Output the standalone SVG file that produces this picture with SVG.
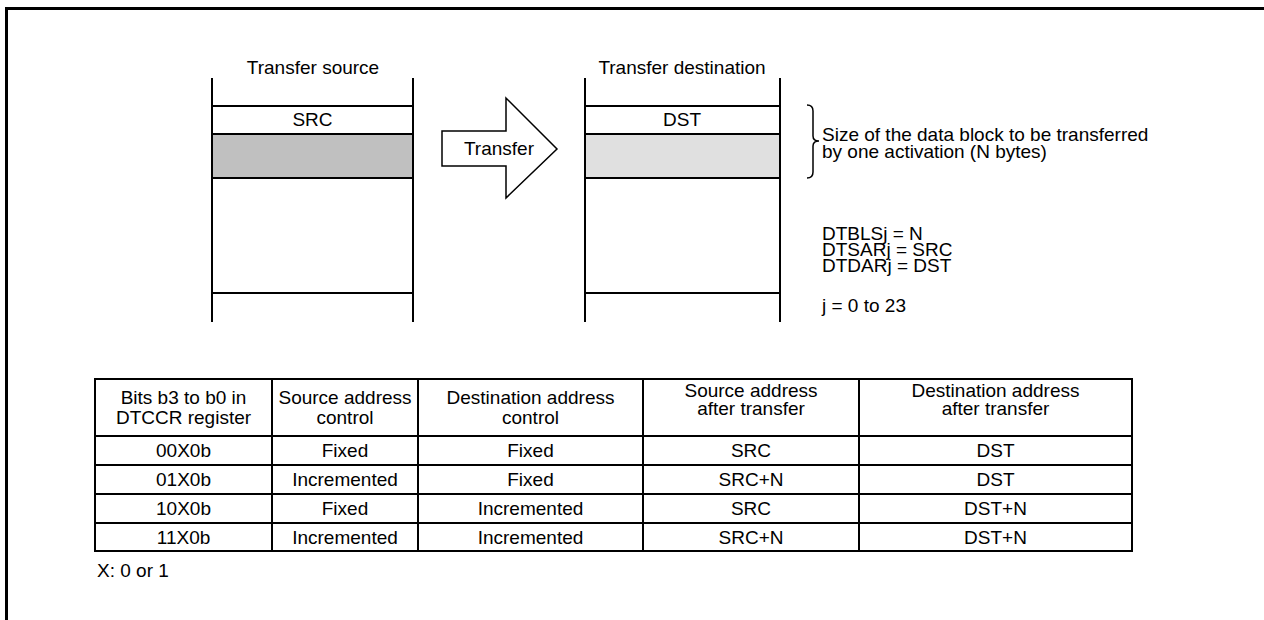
<svg xmlns="http://www.w3.org/2000/svg" width="1264" height="620" viewBox="0 0 1264 620">
<style>
text{font-family:"Liberation Sans",Arial,sans-serif;font-size:19px;fill:#000}
.c{text-anchor:middle}
.ln{stroke:#000;stroke-width:2;fill:none}
.tb{stroke:#000;stroke-width:2;fill:none}
</style>
<rect width="1264" height="620" fill="#fff"/>
<g id="frame"><path d="M6.5,620 V8.5 H1264" stroke="#000" stroke-width="3" fill="none"/></g>

<g id="source">
<text class="c" x="313" y="74">Transfer source</text>
<rect x="212" y="134" width="201" height="44" fill="#c0c0c0"/>
<path class="ln" d="M212,78 V322 M413,78 V322 M212,106 H413 M212,134 H413 M212,178 H413 M212,293 H413"/>
<text class="c" x="312.5" y="126">SRC</text>
</g>

<g id="arrow">
<path d="M442,131 H506 V98 L557,149 L506,198 V166 H442 Z" fill="#fff" stroke="#000" stroke-width="1.5" stroke-linejoin="miter"/>
<text class="c" x="499" y="155">Transfer</text>
</g>

<g id="destination">
<text class="c" x="682" y="74">Transfer destination</text>
<rect x="585" y="134" width="195" height="44" fill="#e0e0e0"/>
<path class="ln" d="M585,78 V322 M780,78 V322 M585,106 H780 M585,134 H780 M585,178 H780 M585,293 H780"/>
<text class="c" x="682" y="126">DST</text>
</g>

<g id="notes">
<path d="M807,105 Q813,105 813,111 V136 Q813,141 819,141 Q813,141 813,146 V172 Q813,178 807,178" stroke="#000" stroke-width="1.5" fill="none"/>
<text x="822" y="141">Size of the data block to be transferred</text>
<text x="822" y="158">by one activation (N bytes)</text>
<text x="822" y="240">DTBLSj = N</text>
<text x="822" y="256">DTSARj = SRC</text>
<text x="822" y="272">DTDARj = DST</text>
<text x="822" y="312">j = 0 to 23</text>
</g>

<g id="table">
<path class="tb" d="M95,379 H1132 V551 H95 Z M95,436 H1132 M95,465 H1132 M95,494 H1132 M95,523 H1132 M272,379 V551 M418,379 V551 M643,379 V551 M859,379 V551"/>
<text class="c" x="183.5" y="404">Bits b3 to b0 in</text>
<text class="c" x="183.5" y="424">DTCCR register</text>
<text class="c" x="345" y="404">Source address</text>
<text class="c" x="345" y="424">control</text>
<text class="c" x="530.5" y="404">Destination address</text>
<text class="c" x="530.5" y="424">control</text>
<text class="c" x="751" y="397">Source address</text>
<text class="c" x="751" y="415">after transfer</text>
<text class="c" x="995.5" y="397">Destination address</text>
<text class="c" x="995.5" y="415">after transfer</text>

<text class="c" x="183.5" y="457">00X0b</text>
<text class="c" x="345" y="457">Fixed</text>
<text class="c" x="530.5" y="457">Fixed</text>
<text class="c" x="751" y="457">SRC</text>
<text class="c" x="995.5" y="457">DST</text>

<text class="c" x="183.5" y="486">01X0b</text>
<text class="c" x="345" y="486">Incremented</text>
<text class="c" x="530.5" y="486">Fixed</text>
<text class="c" x="751" y="486">SRC+N</text>
<text class="c" x="995.5" y="486">DST</text>

<text class="c" x="183.5" y="515">10X0b</text>
<text class="c" x="345" y="515">Fixed</text>
<text class="c" x="530.5" y="515">Incremented</text>
<text class="c" x="751" y="515">SRC</text>
<text class="c" x="995.5" y="515">DST+N</text>

<text class="c" x="183.5" y="544">11X0b</text>
<text class="c" x="345" y="544">Incremented</text>
<text class="c" x="530.5" y="544">Incremented</text>
<text class="c" x="751" y="544">SRC+N</text>
<text class="c" x="995.5" y="544">DST+N</text>

<text x="97" y="577">X: 0 or 1</text>
</g>
</svg>
